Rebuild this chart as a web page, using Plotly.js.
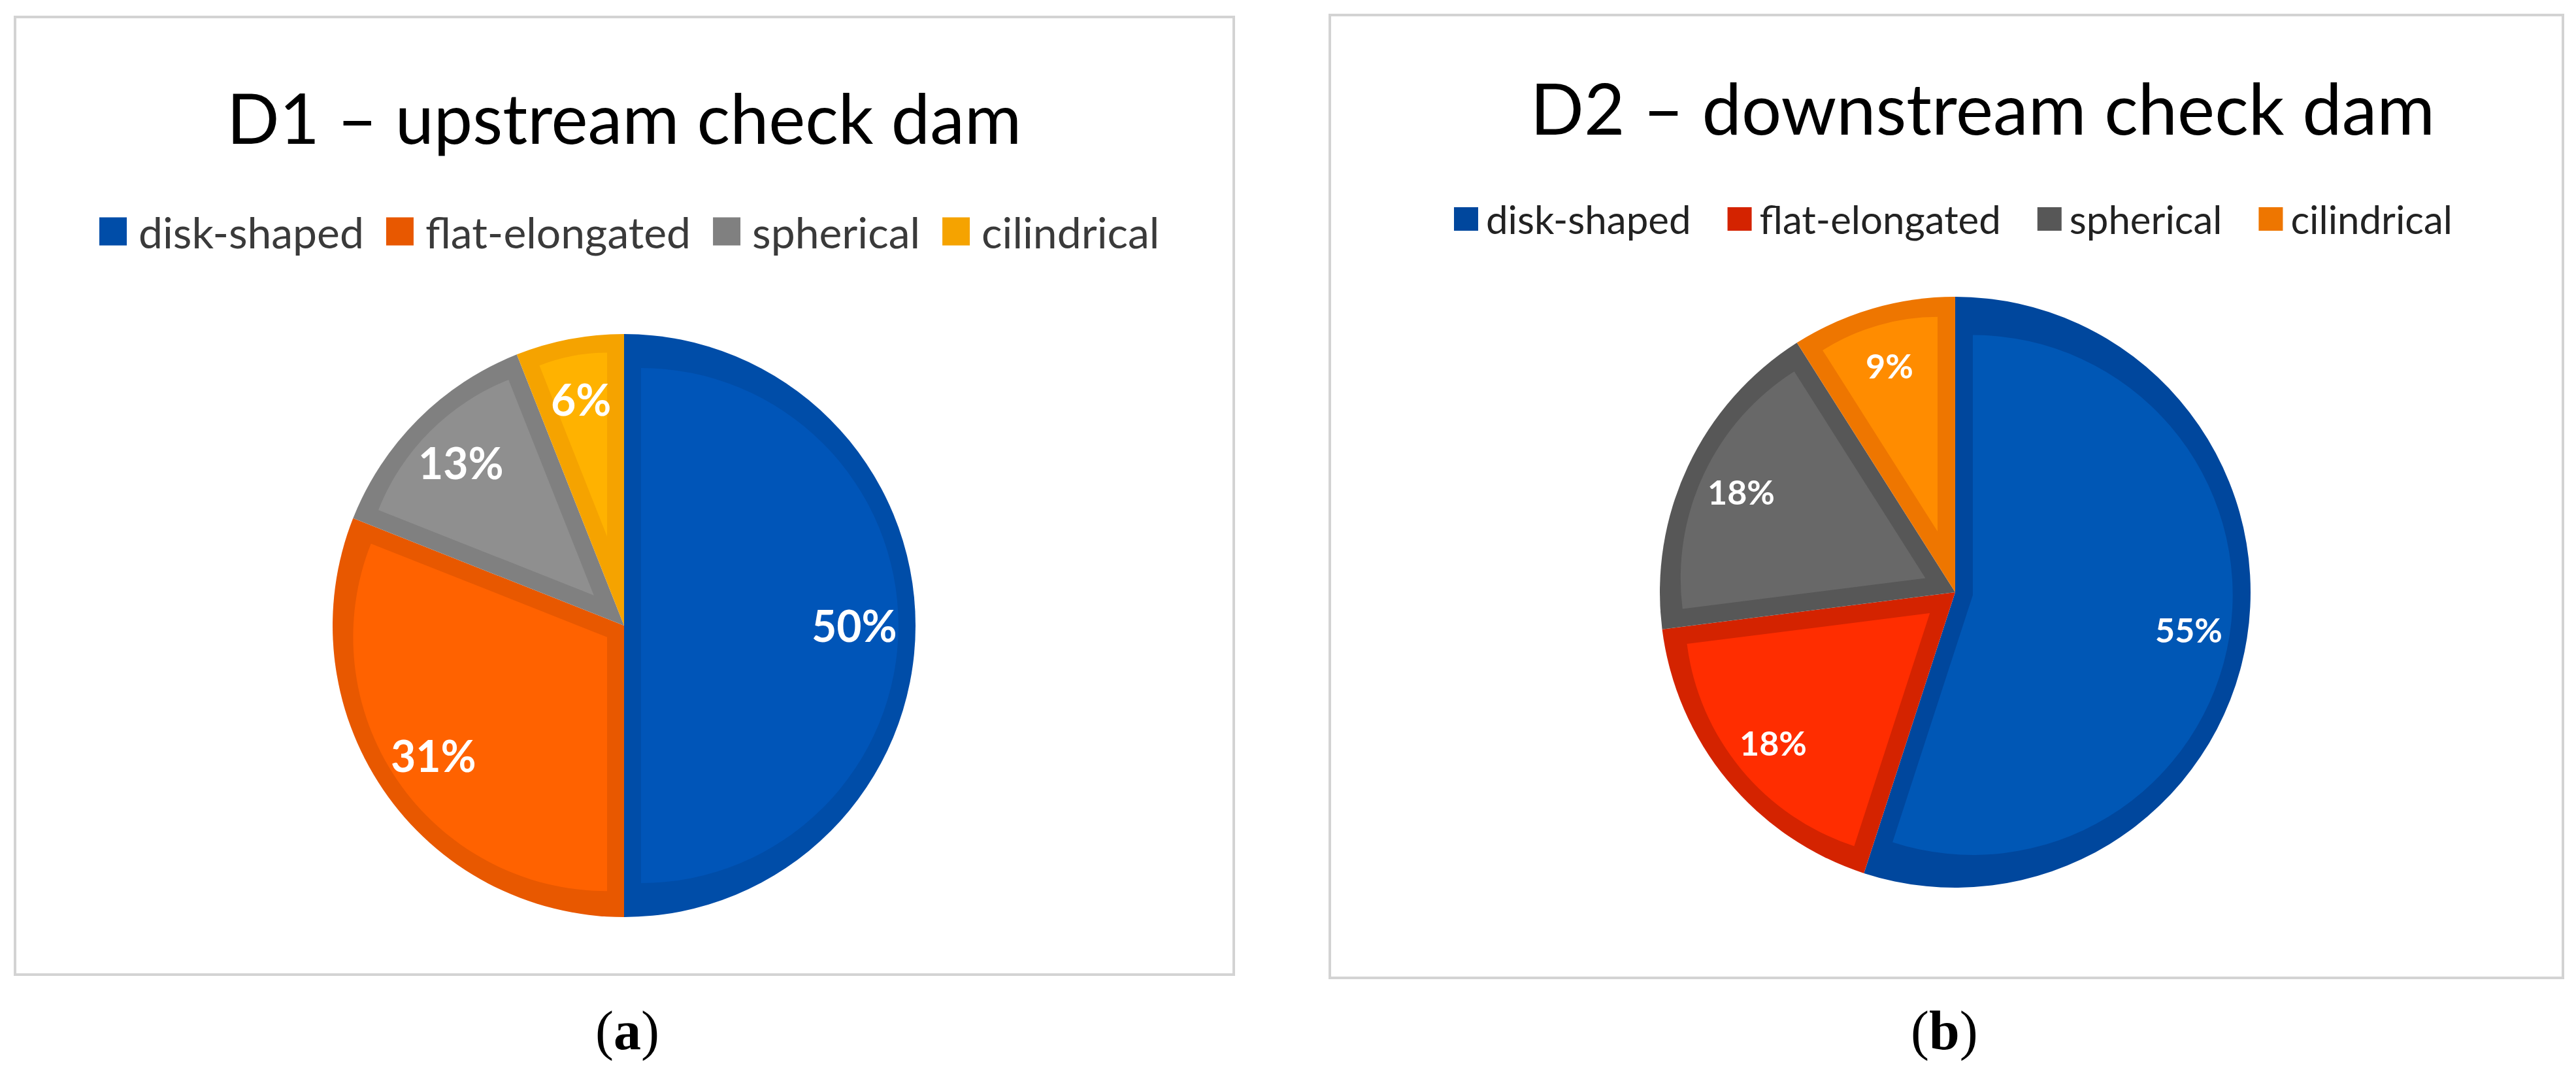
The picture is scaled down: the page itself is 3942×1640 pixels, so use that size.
<!DOCTYPE html>
<html><head><meta charset="utf-8">
<script src="https://cdn.plot.ly/plotly-3.0.1.min.js"></script>
<style>
html,body{margin:0;padding:0;background:#fff;width:3942px;height:1640px;overflow:hidden;}
.panel{position:absolute;top:0;width:1971px;height:1640px;}
#pa{left:0;} #pb{left:1971px;}
</style>
</head><body>
<div id="pa" class="panel"></div><div id="pb" class="panel"></div>
<script>
// ---- data ----
const categories = ['disk-shaped', 'flat-elongated', 'spherical', 'cilindrical'];
const valuesD1 = [50, 31, 13, 6];
const valuesD2 = [55, 18, 18, 9];
const titleD1 = 'D1 – upstream check dam';
const titleD2 = 'D2 – downstream check dam';
const captionD1 = '(<b>a</b>)';
const captionD2 = '(<b>b</b>)';

// ---- styles / layout (pixels inside each 1971x1640 panel) ----
const W = 1971, H = 1640;
const panelA = {
  id: 'pa', values: valuesD1, title: titleD1, caption: captionD1,
  dark:  ['#004DA8', '#E85800', '#808080', '#F5A300'],
  light: ['#0055B8', '#FF6200', '#8F8F8F', '#FFB200'],
  box: [23, 26, 1888, 1491], cx: 955, cy: 957, R: 446, band: 26,
  titleX: 955, titleY: 183, titleSize: 106,
  legendLeft: 123, legendY: 354, legendSize: 66, legendColor: '#3a3a3a',
  itemwidth: 79, sw: 42, sh: 43, sgap: 18,
  labelSize: 66, labelFrac: 0.79,
  capX: 960, capY: 1577
};
const panelB = {
  id: 'pb', values: valuesD2, title: titleD2, caption: captionD2,
  dark:  ['#00479D', '#D42300', '#575757', '#EE7600'],
  light: ['#0057B5', '#FF2D00', '#686868', '#FF8C00'],
  box: [64, 23, 1951, 1496], cx: 1021, cy: 906, R: 452, band: 27,
  titleX: 1063, titleY: 168, titleSize: 108,
  legendLeft: 203, legendY: 335, legendSize: 60, legendColor: '#222222',
  itemwidth: 90, sw: 37, sh: 36, sgap: 12,
  labelSize: 52, labelFrac: 0.80,
  capX: 1004, capY: 1577
};

const px = x => x / W;
const py = y => 1 - y / H;

function build(cfg) {
  const vals = cfg.values;
  const total = vals.reduce((a, b) => a + b, 0);
  const common = {
    type: 'pie', labels: categories, values: vals, sort: false,
    direction: 'clockwise', rotation: 0, textinfo: 'none'
  };
  const traces = [];
  traces.push(Object.assign({}, common, {
    marker: { colors: cfg.dark, line: { width: 0 } },
    hoverinfo: 'label+percent', showlegend: true,
    domain: { x: [px(cfg.cx - cfg.R), px(cfg.cx + cfg.R)], y: [py(cfg.cy + cfg.R), py(cfg.cy - cfg.R)] }
  }));
  // inner (lighter) part of each slice, inset by the band width
  const D = cfg.R - cfg.band;
  vals.forEach((v, k) => {
    const half = Math.PI * v / total;
    const shift = cfg.band / Math.sin(half);
    const rk = D - shift;
    const pull = shift / rk;
    traces.push(Object.assign({}, common, {
      marker: {
        colors: categories.map((c, j) => j === k ? cfg.light[k] : 'rgba(0,0,0,0)'),
        line: { width: 0 }
      },
      pull: categories.map((c, j) => j === k ? pull : 0),
      hoverinfo: 'skip', showlegend: false,
      domain: { x: [px(cfg.cx - D), px(cfg.cx + D)], y: [py(cfg.cy + D), py(cfg.cy - D)] }
    }));
  });

  // percentage labels
  const annotations = [];
  let cum = 0;
  vals.forEach((v) => {
    const mid = 2 * Math.PI * (cum + v / 2) / total;
    cum += v;
    const x = cfg.cx + cfg.labelFrac * cfg.R * Math.sin(mid);
    const y = cfg.cy - cfg.labelFrac * cfg.R * Math.cos(mid);
    annotations.push({
      text: Math.round(100 * v / total) + '%', x: px(x), y: py(y), xref: 'paper', yref: 'paper',
      showarrow: false, xanchor: 'center', yanchor: 'middle',
      font: { family: 'Lato', size: cfg.labelSize, color: '#ffffff', weight: 'bold' }
    });
  });
  annotations.push({
    text: cfg.caption, x: px(cfg.capX), y: py(cfg.capY), xref: 'paper', yref: 'paper',
    showarrow: false, xanchor: 'center', yanchor: 'middle',
    font: { family: 'Liberation Serif', size: 84, color: '#000000' }
  });

  const layout = {
    width: W, height: H, margin: { l: 0, r: 0, t: 0, b: 0 },
    paper_bgcolor: '#ffffff', plot_bgcolor: '#ffffff',
    title: {
      text: cfg.title, font: { family: 'Lato', size: cfg.titleSize, color: '#000000' },
      x: px(cfg.titleX), xref: 'paper', xanchor: 'center',
      y: py(cfg.titleY), yref: 'container', yanchor: 'middle'
    },
    showlegend: true,
    legend: {
      orientation: 'h', x: px(cfg.legendLeft), xanchor: 'left', y: py(cfg.legendY), yanchor: 'middle',
      font: { family: 'Lato', size: cfg.legendSize, color: cfg.legendColor },
      itemwidth: cfg.itemwidth, bgcolor: 'rgba(0,0,0,0)', traceorder: 'normal'
    },
    shapes: [{
      type: 'rect', xref: 'paper', yref: 'paper',
      x0: px(cfg.box[0]), x1: px(cfg.box[2]), y0: py(cfg.box[3]), y1: py(cfg.box[1]),
      line: { color: '#D3D3D3', width: 4 }, fillcolor: 'rgba(0,0,0,0)', layer: 'below'
    }],
    annotations: annotations
  };

  return Plotly.newPlot(cfg.id, traces, layout, { staticPlot: true, displayModeBar: false }).then(gd => {
    const textGap = cfg.itemwidth + 10;
    const cxSw = textGap - cfg.sgap - cfg.sw / 2;
    gd.querySelectorAll('.legend path.legendpie').forEach(p => {
      p.setAttribute('transform', 'translate(' + cxSw + ',' + (0) + ') scale(' + (cfg.sw / 12) + ',' + (cfg.sh / 12) + ')');
    });
  });
}

build(panelA);
build(panelB);
</script>
</body></html>
